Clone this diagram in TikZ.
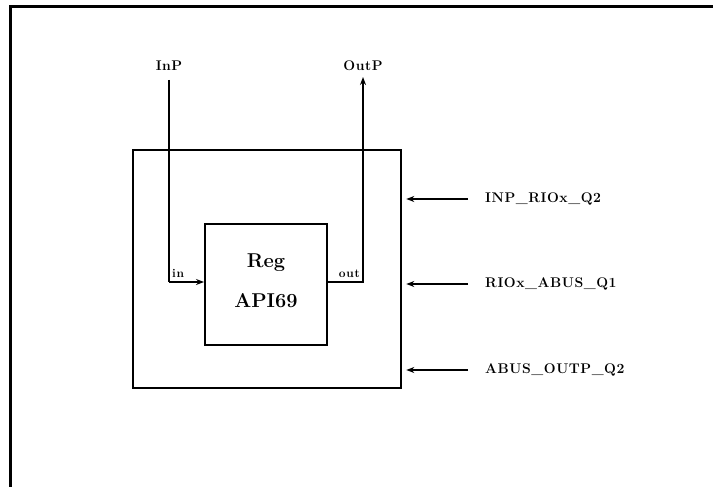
\documentclass[tikz,border=0pt]{standalone}
\usepackage{fontspec}
\setmainfont{Latin Modern Roman}
\usetikzlibrary{arrows.meta}
\begin{document}
\begin{tikzpicture}[x=1pt,y=-1pt,
  box/.style={draw,line width=2.6pt,inner sep=0pt},
  wire/.style={line width=2pt},
  arr/.style={wire,-{Stealth[length=8pt,width=6pt]}},
  lab/.style={font=\bfseries\fontsize{14}{16}\selectfont\addfontfeatures{LetterSpace=4},inner sep=1pt},
  small/.style={font=\bfseries\fontsize{12}{14}\selectfont\addfontfeatures{LetterSpace=6},inner sep=1pt},
  big/.style={font=\bfseries\fontsize{20}{24}\selectfont}]
\useasboundingbox (0,0) rectangle (713,487);
\coordinate (fbl) at (10,487);
\coordinate (ftl) at (10,7);
\coordinate (ftr) at (713,7);
\draw[line width=3pt] (fbl) -- (ftl) -- (ftr);
% outer box
\node[box,minimum width=268pt,minimum height=238pt] (outer) at (267,269) {};
% inner box
\node[box,line width=2pt,minimum width=122pt,minimum height=121pt] (reg) at (266,284.5) {};
\node[big] (regt) at (266,263) {Reg};
\node[big] (api) at (266,301) {API69};
% InP
\node[lab] (inp) at (169,66) {InP};
\coordinate (inptop) at (169,80);
\coordinate (inbend) at (169,282);
\coordinate (inend) at (reg.west |- inbend);
\draw[wire] (inptop) -- (inbend);
\draw[arr] (inbend) -- (inend);
\node[small,anchor=south west] (inl) at (171,279) {in};
% OutP
\node[lab] (outp) at (363,66) {OutP};
\coordinate (outtop) at (363,77);
\coordinate (outbend) at (363,282);
\coordinate (outstart) at (reg.east |- outbend);
\draw[arr] (outstart) -- (outbend) -- (outtop);
\node[small,anchor=south east] (outl) at (361,279) {out};
% right signals
\node[lab,anchor=west] (s1) at (484,199) {INP\_RIOx\_Q2};
\node[lab,anchor=west] (s2) at (484,284) {RIOx\_ABUS\_Q1};
\node[lab,anchor=west] (s3) at (484,370) {ABUS\_OUTP\_Q2};
\coordinate (e1) at (468,199);
\coordinate (e2) at (468,284);
\coordinate (e3) at (468,370);
\draw[arr] (e1) -- ([xshift=4pt]outer.east |- e1);
\draw[arr] (e2) -- ([xshift=4pt]outer.east |- e2);
\draw[arr] (e3) -- ([xshift=4pt]outer.east |- e3);
\end{tikzpicture}
\end{document}
